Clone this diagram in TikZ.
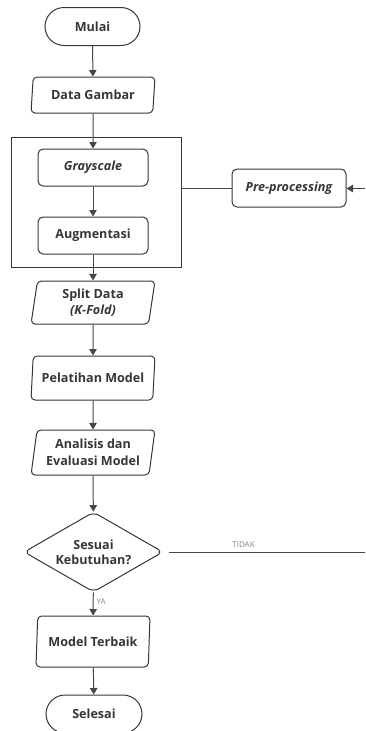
\documentclass[tikz,border=0pt]{standalone}
\usepackage{fontspec}
\setmainfont{Open Sans}
\usetikzlibrary{shapes.geometric,arrows.meta}
\definecolor{ink}{HTML}{363636}
\definecolor{wire}{HTML}{474747}
\definecolor{note}{HTML}{858585}
\tikzset{
  base/.style={draw=ink, line width=1pt, text=ink, font=\bfseries\fontsize{12.6}{16.5}\selectfont, align=center, inner sep=0pt},
  terminal/.style={base, rectangle, rounded corners=19pt, minimum width=95pt, minimum height=38pt},
  process/.style={base, rectangle, rounded corners=5pt, minimum width=110pt, minimum height=37pt},
  io/.style={base, trapezium, trapezium left angle=#1, trapezium right angle=180-#1,
    trapezium stretches body, rounded corners=4pt, minimum width=124pt},
  io/.default=77,
  decision/.style={base, diamond, aspect=1.74, rounded corners=6pt, minimum width=139pt, minimum height=80pt},
  group/.style={draw=ink, line width=1pt, rectangle, inner sep=0pt, minimum width=170pt, minimum height=130pt},
  flow/.style={draw=wire, line width=1pt, -{Triangle[length=6.5pt,width=7.5pt]}},
  link/.style={draw=wire, line width=1pt},
  tag/.style={text=note, font=\fontsize{8}{9}\selectfont, inner sep=0pt}
}
\begin{document}
\begin{tikzpicture}[x=1pt,y=1pt]
  \useasboundingbox (0,0) rectangle (365,-731);
  \clip (0,0) rectangle (365,-731);

  % main column
  \node[terminal] (mulai) at (92.5,-26.5) {Mulai};
  \node[io, minimum height=36pt] (data) at (93,-95) {Data Gambar};
  \node[group] (prep) at (96,-202) {};
  \node[process] (gray) at (93,-167.5) {\itshape Grayscale};
  \node[process] (aug) at (93,-235.5) {Augmentasi};
  \node[io, minimum height=43pt] (split) at (93,-302.5) {Split Data\\\itshape (K-Fold)};
  \node[io, minimum height=44pt] (train) at (93,-378) {Pelatihan Model};
  \node[io, minimum height=45pt] (eval) at (93,-452.5) {Analisis dan\\Evaluasi Model};
  \node[decision] (check) at (93.5,-552) {Sesuai\\[-1.5pt]Kebutuhan?};
  \node[io=80, minimum height=51pt, minimum width=114pt] (best) at (93,-641.5) {Model Terbaik};
  \node[terminal, minimum width=96pt] (selesai) at (94,-714) {Selesai};

  % side step
  \node[process, minimum width=114pt, minimum height=38pt] (pre) at (289,-188) {\itshape Pre-processing};
  \coordinate (inR) at (366,-188.5);
  \coordinate (outR) at (366,-552);

  % connectors
  \draw[flow] (mulai) -- (data);
  \draw[flow] (data) -- (gray);
  \draw[flow] (gray) -- (aug);
  \draw[flow] (aug) -- (split);
  \draw[flow] (split) -- (train);
  \draw[flow] (train) -- (eval);
  \draw[flow] (eval) -- (check);
  \draw[flow] (check) -- node[tag, right, pos=0.4, xshift=3pt] {YA} (best);
  \draw[flow] (best) -- (selesai);
  \draw[link] (prep.east |- pre.west) -- (pre.west);
  \draw[flow] (inR) -- (pre.east |- inR);
  \draw[link] ([xshift=5pt]check.east) -- node[tag, above=4pt, pos=0.38] {TIDAK} (outR);
\end{tikzpicture}
\end{document}
